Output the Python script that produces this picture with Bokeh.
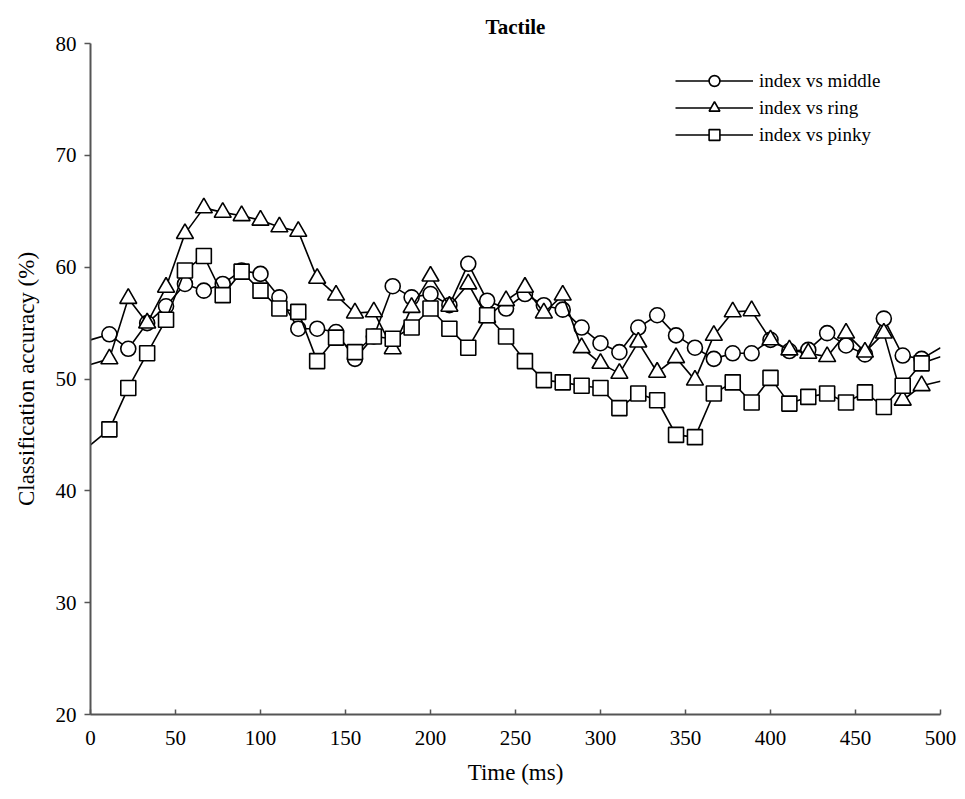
from bokeh.plotting import figure
from bokeh.models import Range1d, FixedTicker, Legend, LegendItem
from bokeh.embed import file_html
from bokeh.resources import INLINE

step = 1000 / 90.0
time_ms = [round(k * step, 2) for k in range(46)]

index_vs_middle = [53.5, 54.0, 52.7, 55.0, 56.5, 58.5, 57.9, 58.5, 59.7, 59.4,
                   57.3, 54.5, 54.5, 54.2, 51.8, 53.8, 58.3, 57.3, 57.6, 56.6,
                   60.3, 57.0, 56.3, 57.6, 56.6, 56.2, 54.6, 53.2, 52.4, 54.6,
                   55.7, 53.9, 52.8, 51.8, 52.3, 52.3, 53.5, 52.5, 52.6, 54.1,
                   53.0, 52.2, 55.4, 52.1, 51.8, 52.8]

index_vs_ring = [51.3, 51.8, 57.2, 55.0, 58.2, 63.0, 65.3, 64.9, 64.6, 64.2,
                 63.6, 63.2, 59.0, 57.5, 55.9, 56.0, 52.7, 56.4, 59.2, 56.5,
                 58.5, 55.5, 57.0, 58.2, 55.9, 57.5, 52.8, 51.4, 50.5, 53.3,
                 50.6, 51.9, 49.9, 53.9, 56.0, 56.1, 53.5, 52.6, 52.3, 52.0,
                 54.1, 52.4, 54.1, 48.1, 49.4, 49.8]

index_vs_pinky = [44.1, 45.5, 49.2, 52.3, 55.3, 59.7, 61.0, 57.5, 59.6, 57.9,
                  56.3, 56.0, 51.6, 53.7, 52.4, 53.8, 53.6, 54.6, 56.3, 54.5,
                  52.8, 55.7, 53.8, 51.6, 49.9, 49.7, 49.4, 49.2, 47.4, 48.7,
                  48.1, 45.0, 44.8, 48.7, 49.7, 47.9, 50.1, 47.8, 48.4, 48.7,
                  47.9, 48.8, 47.5, 49.4, 51.4, 52.0]

series_names = ["index vs middle", "index vs ring", "index vs pinky"]
x_ticks = [0, 50, 100, 150, 200, 250, 300, 350, 400, 450, 500]
y_ticks = [20, 30, 40, 50, 60, 70, 80]

FONT = "Liberation Serif"

p = figure(width=965, height=799, output_backend="svg", toolbar_location=None,
           x_range=Range1d(0, 500), y_range=Range1d(20, 80),
           min_border_left=90, min_border_right=25, min_border_top=43,
           min_border_bottom=85, outline_line_color=None,
           title="Tactile")
p.title.align = "center"
p.title.text_font = FONT
p.title.text_font_size = "21px"
p.title.text_font_style = "bold"
p.title.text_color = "black"
p.title.offset = 0

p.xgrid.visible = False
p.ygrid.visible = False

for ax in (p.xaxis[0], p.yaxis[0]):
    ax.axis_line_color = "#555555"
    ax.axis_line_width = 2
    ax.major_tick_line_color = "#555555"
    ax.major_tick_line_width = 1.5
    ax.minor_tick_line_color = None
    ax.major_label_text_font = FONT
    ax.major_label_text_font_size = "21px"
    ax.major_label_text_color = "black"
    ax.axis_label_text_font = FONT
    ax.axis_label_text_font_size = "23px"
    ax.axis_label_text_font_style = "normal"
    ax.axis_label_text_color = "black"

p.xaxis.ticker = FixedTicker(ticks=x_ticks)
p.yaxis.ticker = FixedTicker(ticks=y_ticks)
p.xaxis.major_tick_in = 5
p.xaxis.major_tick_out = 0
p.yaxis.major_tick_in = 0
p.yaxis.major_tick_out = 6
p.xaxis.axis_label = "Time (ms)"
p.yaxis.axis_label = "Classification accuracy (%)"
p.xaxis.major_label_standoff = 16
p.yaxis.major_label_standoff = 8
p.xaxis.axis_label_standoff = 12
p.yaxis.axis_label_standoff = 14

items = []
for name, vals, marker in zip(series_names,
                              [index_vs_middle, index_vs_ring, index_vs_pinky],
                              ["circle", "triangle", "square"]):
    ln = p.line(time_ms, vals, line_color="black", line_width=1.6)
    size = 15 if marker != "triangle" else 17
    sc = p.scatter(time_ms[1:-1], vals[1:-1], marker=marker, size=size,
                   fill_color="white", line_color="black", line_width=1.6)
    items.append(LegendItem(label=name, renderers=[ln, sc]))

legend = Legend(items=items, location=(585, 566))
legend.border_line_color = None
legend.background_fill_alpha = 0
legend.label_text_font = FONT
legend.label_text_font_size = "19px"
legend.label_text_color = "black"
legend.glyph_width = 78
legend.glyph_height = 27
legend.label_height = 22
legend.spacing = 0
legend.padding = 0
legend.margin = 0
legend.label_standoff = 6
p.add_layout(legend)

open("out.html", "w").write(file_html(p, INLINE))
